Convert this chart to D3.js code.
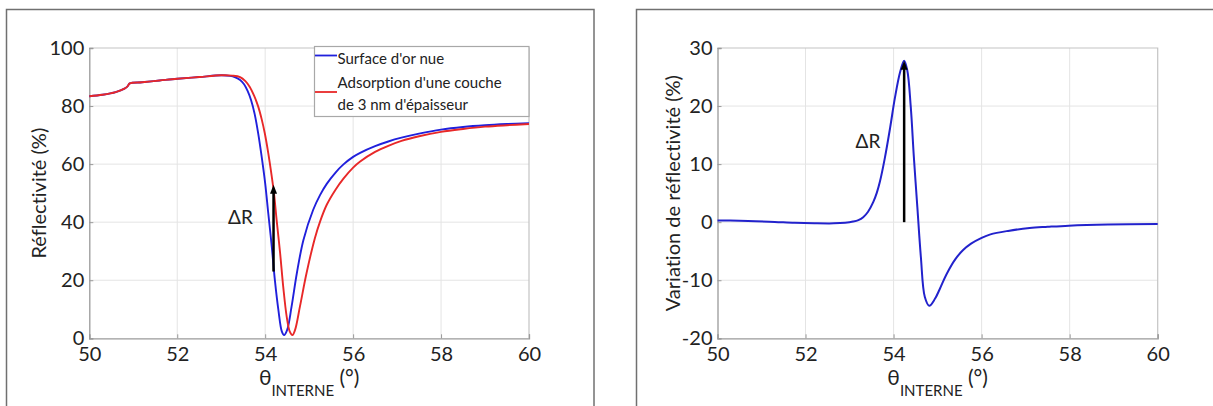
<!DOCTYPE html>
<html><head><meta charset="utf-8">
<script src="https://cdn.jsdelivr.net/npm/d3@7"></script>
<style>
body{margin:0;background:#fff;}
svg{display:block;font-family:Lato,"Open Sans",sans-serif;font-variant-ligatures:none;}
</style></head><body>
<svg id="c" width="1213" height="406"></svg>
<script>
// ---------- data ----------
const xTicks = [50, 52, 54, 56, 58, 60];
const yTicksLeft = [0, 20, 40, 60, 80, 100];
const yTicksRight = [-20, -10, 0, 10, 20, 30];

const legendLabels = ["Surface d'or nue", "Adsorption d'une couche", "de 3 nm d'épaisseur"];
const yLabelLeft = "Réflectivité (%)";
const yLabelRight = "Variation de réflectivité (%)";

const thetaBlue = [50, 50.3, 50.6, 50.8, 50.87, 50.92, 51.2, 51.6, 52, 52.5, 53, 53.2, 53.32, 53.43, 53.52, 53.6, 53.68, 53.76, 53.84, 53.92, 54.0, 54.07, 54.15, 54.22, 54.3, 54.38, 54.43, 54.5, 54.6, 54.72, 54.87, 55.09, 55.25, 55.4, 55.6, 55.78, 56.0, 56.16, 56.5, 56.8, 57.1, 57.5, 58, 58.5, 59, 59.5, 60];
const reflBlue  = [83.4, 83.9, 84.8, 86.0, 86.8, 87.8, 88.2, 88.8, 89.4, 90.0, 90.6, 90.4, 89.9, 89.0, 87.5, 85.2, 82.0, 77.3, 70.7, 62.6, 53.4, 43.1, 31.6, 20.1, 9.8, 2.3, 1.1, 2.9, 10.9, 22.4, 33.9, 44.2, 49.4, 53.2, 57.1, 59.9, 62.5, 63.9, 66.2, 67.8, 69.1, 70.5, 71.9, 72.8, 73.4, 73.8, 74.1];

const thetaRed = [50, 50.3, 50.6, 50.8, 50.87, 50.92, 51.2, 51.6, 52, 52.5, 53, 53.25, 53.43, 53.55, 53.65, 53.75, 53.84, 53.92, 53.99, 54.07, 54.15, 54.2, 54.26, 54.34, 54.41, 54.49, 54.56, 54.62, 54.68, 54.79, 54.94, 55.13, 55.25, 55.4, 55.6, 55.78, 56.0, 56.16, 56.5, 56.8, 57.1, 57.5, 58, 58.5, 59, 59.5, 60];
const reflRed  = [83.4, 83.9, 84.8, 86.0, 86.8, 87.8, 88.2, 88.8, 89.4, 90.0, 90.6, 90.5, 90.0, 88.6, 86.6, 83.5, 79.9, 75.5, 70.7, 63.8, 55.7, 50.0, 40.8, 29.3, 17.8, 7.4, 2.3, 1.1, 2.9, 10.9, 22.4, 34.5, 40.3, 46.0, 51.2, 55.0, 58.8, 60.9, 64.2, 66.3, 68.0, 69.6, 71.1, 72.1, 72.9, 73.4, 73.8];

const thetaDelta = [50, 50.5, 50.86, 51.3, 51.75, 52.2, 52.64, 52.9, 53.08, 53.2, 53.31, 53.42, 53.54, 53.62, 53.69, 53.8, 53.92, 54.03, 54.15, 54.24, 54.31, 54.39, 54.46, 54.54, 54.62, 54.71, 54.81, 54.94, 55.05, 55.2, 55.4, 55.58, 55.76, 56.0, 56.2, 56.6, 57.09, 57.5, 57.98, 58.87, 60];
const deltaR     = [0.3, 0.25, 0.17, 0.05, -0.1, -0.18, -0.2, -0.1, 0.1, 0.35, 0.85, 1.8, 3.5, 5.1, 7.0, 11.0, 16.2, 21.4, 25.9, 27.8, 26.2, 19.9, 11.3, 2.6, -6.0, -12.9, -14.4, -13.2, -11.5, -9.0, -6.4, -4.8, -3.7, -2.7, -2.1, -1.5, -1.0, -0.8, -0.6, -0.4, -0.3];

// annotations (data coordinates)
const arrowLeft  = {x: 54.19, from: 23, to: 52.9};
const arrowRight = {x: 54.24, from: 0, to: 27.8};
const deltaLabelLeft  = {x: 53.72, y: 39.4};
const deltaLabelRight = {x: 53.7, y: 12.8};

// ---------- drawing ----------
const svg = d3.select("#c");
const BLUE = "#2020dc", RED = "#e82828";

// panel frames
svg.append("rect").attr("x", 6.5).attr("y", 9.5).attr("width", 587.5).attr("height", 420)
  .attr("fill", "none").attr("stroke", "#707070").attr("stroke-width", 1.5);
svg.append("rect").attr("x", 636.5).attr("y", 9.5).attr("width", 620).attr("height", 420)
  .attr("fill", "none").attr("stroke", "#707070").attr("stroke-width", 1.5);

const fmt = d => String(d);

function makePanel(o) {
  const x = d3.scaleLinear().domain([50, 60]).range([o.x0, o.x1]);
  const y = d3.scaleLinear().domain(o.yDomain).range([338.3, 48]);
  const g = svg.append("g");
  // grid
  g.append("g").selectAll("line").data(o.xTicks.slice(1, -1)).join("line")
    .attr("x1", d => x(d)).attr("x2", d => x(d)).attr("y1", y.range()[0]).attr("y2", y.range()[1])
    .attr("stroke", "#e4e4e4").attr("stroke-width", 1);
  g.append("g").selectAll("line").data(o.yTicks.slice(1, -1)).join("line")
    .attr("y1", d => y(d)).attr("y2", d => y(d)).attr("x1", o.x0).attr("x2", o.x1)
    .attr("stroke", "#e4e4e4").attr("stroke-width", 1);
  // box top/right
  g.append("path").attr("d", `M${o.x0},${y.range()[1]}H${o.x1}V${y.range()[0]}`)
    .attr("fill", "none").attr("stroke", "#c4c4c4").attr("stroke-width", 1.2);
  // axes
  const ax = g.append("g").attr("transform", `translate(0,${y.range()[0]})`)
    .call(d3.axisBottom(x).tickValues(o.xTicks).tickSize(-4).tickPadding(9).tickFormat(fmt));
  const ay = g.append("g").attr("transform", `translate(${o.x0},0)`)
    .call(d3.axisLeft(y).tickValues(o.yTicks).tickSize(-4).tickPadding(5).tickFormat(fmt));
  [ax, ay].forEach(a => {
    a.select(".domain").attr("stroke", "#9a9a9a").attr("stroke-width", 1.3);
    a.selectAll(".tick line").attr("stroke", "#9a9a9a");
    a.selectAll(".tick text").attr("fill", "#222").style("font-size", "20px").style("font-family", "Lato");
  });
  // x label
  const xl = g.append("text").attr("x", (o.x0 + o.x1) / 2).attr("y", 385)
    .attr("text-anchor", "middle").attr("fill", "#222").style("font-size", "21px");
  xl.append("tspan").text("θ");
  xl.append("tspan").attr("dy", 11).style("font-size", "15px").text("INTERNE");
  xl.append("tspan").attr("dy", -11).text(" (°)");
  // y label
  g.append("text").attr("transform", `translate(${o.yLabelX},${(y.range()[0] + y.range()[1]) / 2}) rotate(-90)`)
    .attr("text-anchor", "middle").attr("fill", "#222").style("font-size", "20px").text(o.yLabel);
  return {x, y, g};
}

function drawArrow(p, a) {
  const xx = p.x(a.x), y0 = p.y(a.from), y1 = p.y(a.to);
  p.g.append("line").attr("x1", xx).attr("x2", xx).attr("y1", y0).attr("y2", y1 + 6)
    .attr("stroke", "#000").attr("stroke-width", 2.5);
  p.g.append("path").attr("d", `M${xx},${y1}L${xx - 3.5},${y1 + 9}L${xx + 3.5},${y1 + 9}Z`).attr("fill", "#000");
}

const line = d3.line().curve(d3.curveCatmullRom.alpha(0.5));

// ---- left panel ----
const L = makePanel({x0: 89.3, x1: 529, yDomain: [0, 100], xTicks, yTicks: yTicksLeft, yLabel: yLabelLeft, yLabelX: 46});
L.g.append("path").attr("d", line(thetaBlue.map((t, i) => [L.x(t), L.y(reflBlue[i])])))
  .attr("fill", "none").attr("stroke", BLUE).attr("stroke-width", 1.9);
L.g.append("path").attr("d", line(thetaRed.map((t, i) => [L.x(t), L.y(reflRed[i])])))
  .attr("fill", "none").attr("stroke", RED).attr("stroke-width", 1.9);
drawArrow(L, arrowLeft);
L.g.append("text").attr("x", L.x(deltaLabelLeft.x)).attr("y", L.y(deltaLabelLeft.y))
  .attr("text-anchor", "end").attr("fill", "#222").style("font-size", "19px").text("ΔR");

// legend
const lg = L.g.append("g");
lg.append("rect").attr("x", 314.5).attr("y", 46.5).attr("width", 214.5).attr("height", 70)
  .attr("fill", "#fff").attr("stroke", "#a8a8a8").attr("stroke-width", 1.2);
lg.append("line").attr("x1", 315).attr("x2", 337).attr("y1", 55.5).attr("y2", 55.5).attr("stroke", BLUE).attr("stroke-width", 1.8);
lg.append("line").attr("x1", 315).attr("x2", 337).attr("y1", 92).attr("y2", 92).attr("stroke", RED).attr("stroke-width", 1.8);
lg.selectAll("text").data(legendLabels).join("text")
  .attr("x", 337.5).attr("y", (d, i) => [64, 88, 110][i])
  .attr("fill", "#222").style("font-size", "15px").text(d => d);

// ---- right panel ----
const R = makePanel({x0: 717.5, x1: 1157.7, yDomain: [-20, 30], xTicks, yTicks: yTicksRight, yLabel: yLabelRight, yLabelX: 680});
R.g.append("path").attr("d", line(thetaDelta.map((t, i) => [R.x(t), R.y(deltaR[i])])))
  .attr("fill", "none").attr("stroke", "#2222cc").attr("stroke-width", 2);
drawArrow(R, arrowRight);
R.g.append("text").attr("x", R.x(deltaLabelRight.x)).attr("y", R.y(deltaLabelRight.y))
  .attr("text-anchor", "end").attr("fill", "#222").style("font-size", "19px").text("ΔR");
</script>
</body></html>
